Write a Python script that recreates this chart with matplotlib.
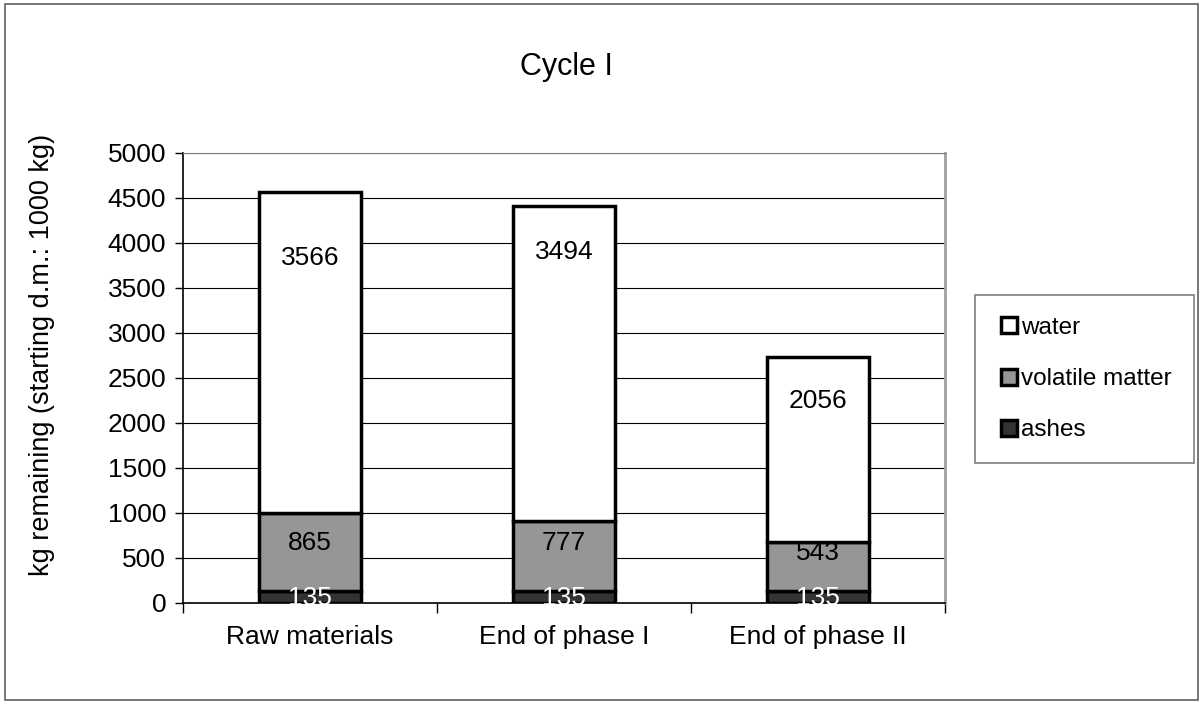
import matplotlib.pyplot as plt
from matplotlib.lines import Line2D
from matplotlib.patches import Rectangle

plt.rcParams['font.family'] = ['Liberation Sans', 'DejaVu Sans']

categories = ['Raw materials', 'End of phase I', 'End of phase II']
ashes = [135, 135, 135]
volatile = [865, 777, 543]
water = [3566, 3494, 2056]

# where the data labels sit (y in data units), as placed in the original
water_label_y = [3830, 3900, 2240]
volatile_label_y = [665, 665, 555]
ashes_label_y = [60, 60, 60]

c_water = 'white'
c_vol = '#969696'
c_ash = '#333333'
fs = 19

fig = plt.figure(figsize=(12.03, 7.04), dpi=100)
ax = fig.add_axes([0.1521, 0.1435, 0.6334, 0.6392])

x = list(range(len(categories)))
w = 0.4
bot2 = [a + v for a, v in zip(ashes, volatile)]
ax.bar(x, ashes, w, color=c_ash, edgecolor='black', linewidth=2.5, zorder=3)
ax.bar(x, volatile, w, bottom=ashes, color=c_vol, edgecolor='black', linewidth=2.5, zorder=3)
ax.bar(x, water, w, bottom=bot2, color=c_water, edgecolor='black', linewidth=2.5, zorder=3)

for i in x:
    ax.text(i, water_label_y[i], str(water[i]), ha='center', va='center', fontsize=fs, zorder=4)
    ax.text(i, volatile_label_y[i], str(volatile[i]), ha='center', va='center', fontsize=fs, zorder=4)
    ax.text(i, ashes_label_y[i], str(ashes[i]), ha='center', va='center', fontsize=fs,
            color='white', zorder=4)

ax.set_xlim(-0.5, 2.5)
ax.set_ylim(0, 5000)
ax.set_yticks(range(0, 5001, 500))
ax.tick_params(axis='y', labelsize=fs, direction='out', length=6, width=1, pad=6)
ax.set_xticks(x)
ax.set_xticklabels(categories, fontsize=fs)
ax.tick_params(axis='x', length=0, pad=16)
ax.set_xticks([-0.5, 0.5, 1.5, 2.5], minor=True)
ax.tick_params(axis='x', which='minor', length=7, width=1, direction='out')
ax.grid(axis='y', color='black', linewidth=0.8, zorder=0)
ax.spines['left'].set_linewidth(1.2)
ax.spines['bottom'].set_linewidth(1.2)
ax.spines['top'].set_color('#808080')
ax.spines['right'].set_color('#a0a0a0')
ax.spines['right'].set_linewidth(2)
ax.set_ylabel('kg remaining (starting d.m.: 1000 kg)', fontsize=19.5)
ax.yaxis.set_label_coords(-0.168, 0.551)

fig.text(566 / 1203, 1 - 67 / 704, 'Cycle I', ha='center', va='center', fontsize=22)

handles = [
    Line2D([], [], marker='s', linestyle='none', markersize=11, markerfacecolor=c_water,
           markeredgecolor='black', markeredgewidth=2.5),
    Line2D([], [], marker='s', linestyle='none', markersize=11, markerfacecolor=c_vol,
           markeredgecolor='black', markeredgewidth=2.5),
    Line2D([], [], marker='s', linestyle='none', markersize=11, markerfacecolor=c_ash,
           markeredgecolor='black', markeredgewidth=2.5),
]
leg = fig.legend(handles, ['water', 'volatile matter', 'ashes'], loc='upper left',
                 bbox_to_anchor=(975 / 1203, 1 - 295 / 704), fontsize=17.5, frameon=True,
                 fancybox=False, labelspacing=1.2, handletextpad=0.0, borderpad=0.9,
                 handlelength=1.0, borderaxespad=0)
leg.get_frame().set_edgecolor('#606060')
leg.get_frame().set_linewidth(1.2)

fig.patches.append(Rectangle((5 / 1203, 4 / 704), 1193 / 1203, 696 / 704, transform=fig.transFigure,
                             fill=False, edgecolor='#606060', linewidth=1.2))

fig.savefig('out.png', dpi=100)
